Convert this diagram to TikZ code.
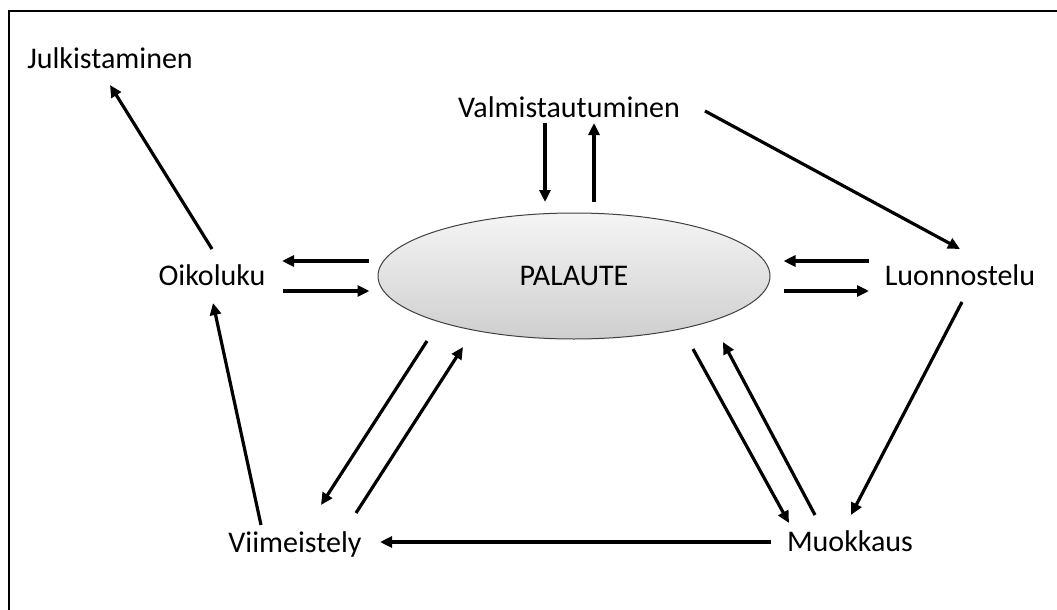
\documentclass[tikz,border=0pt]{standalone}
\usepackage{fontspec}
\setmainfont{Carlito}
\usetikzlibrary{arrows.meta,calc,shapes.geometric}

\begin{document}
\begin{tikzpicture}[x=1pt,y=-1pt,
  lbl/.style={font=\fontsize{30}{36}\selectfont, inner sep=0pt, anchor=base},
  arr/.style={-{Triangle[length=12pt,width=11pt]}, line width=3.2pt}]
  \useasboundingbox (0,0) rectangle (1057,610);

  % Frame
  \draw[line width=2pt] (1057,11) -- (9,11) -- (9,610);

  % Centre
  \node[ellipse, draw=black!75, line width=1pt, top color=gray!8, bottom color=gray!38,
        minimum width=392pt, minimum height=126pt, inner sep=0pt,
        font=\fontsize{30}{36}\selectfont] (pal) at (574,276) {PALAUTE};

  % Stages
  \node[lbl] (julk) at (110,68) {Julkistaminen};
  \node[lbl] (valm) at (569,117) {Valmistautuminen};
  \node[lbl] (oiko) at (212,285) {Oikoluku};
  \node[lbl] (luon) at (960,285) {Luonnostelu};
  \node[lbl] (viim) at (295,552) {Viimeistely};
  \node[lbl] (muok) at (850,551) {Muokkaus};

  % Arrows
  \draw[arr] ($(oiko.base)+(0,-36)$) -- ($(julk.base)+(0,17)$);
  \draw[arr] ($(valm.base)+(-24,6)$) -- ($(pal)+(-29,-74)$);
  \draw[arr] ($(pal)+(20,-74)$) -- ($(valm.base)+(25,6)$);
  \draw[arr] ($(valm.base)+(136,-6)$) -- ($(luon.base)+(0,-36)$);
  \draw[arr] ($(pal.west)+(-9,-15)$) -- ($(oiko.base)+(70,-24)$);
  \draw[arr] ($(oiko.base)+(71,6)$) -- ($(pal.west)+(-8,15)$);
  \draw[arr] ($(luon.base)+(-91,-24)$) -- ($(pal.east)+(13,-15)$);
  \draw[arr] ($(pal.east)+(13,15)$) -- ($(luon.base)+(-91,6)$);
  \draw[arr] ($(luon.base)+(2,17)$) -- ($(muok.base)+(1,-36)$);
  \draw[arr] ($(pal)+(119,73)$) -- ($(muok.base)+(-61,-28)$);
  \draw[arr] ($(muok.base)+(-35,-36)$) -- ($(pal)+(149,66)$);
  \draw[arr] ($(pal)+(-147,65)$) -- ($(viim.base)+(26,-47)$);
  \draw[arr] ($(viim.base)+(61,-39)$) -- ($(pal)+(-111,71)$);
  \draw[arr] ($(muok.base)+(-79,-9)$) -- ($(viim.base)+(85,-10)$);
  \draw[arr] ($(viim.base)+(-34,-27)$) -- ($(oiko.base)+(1,18)$);
\end{tikzpicture}
\end{document}
